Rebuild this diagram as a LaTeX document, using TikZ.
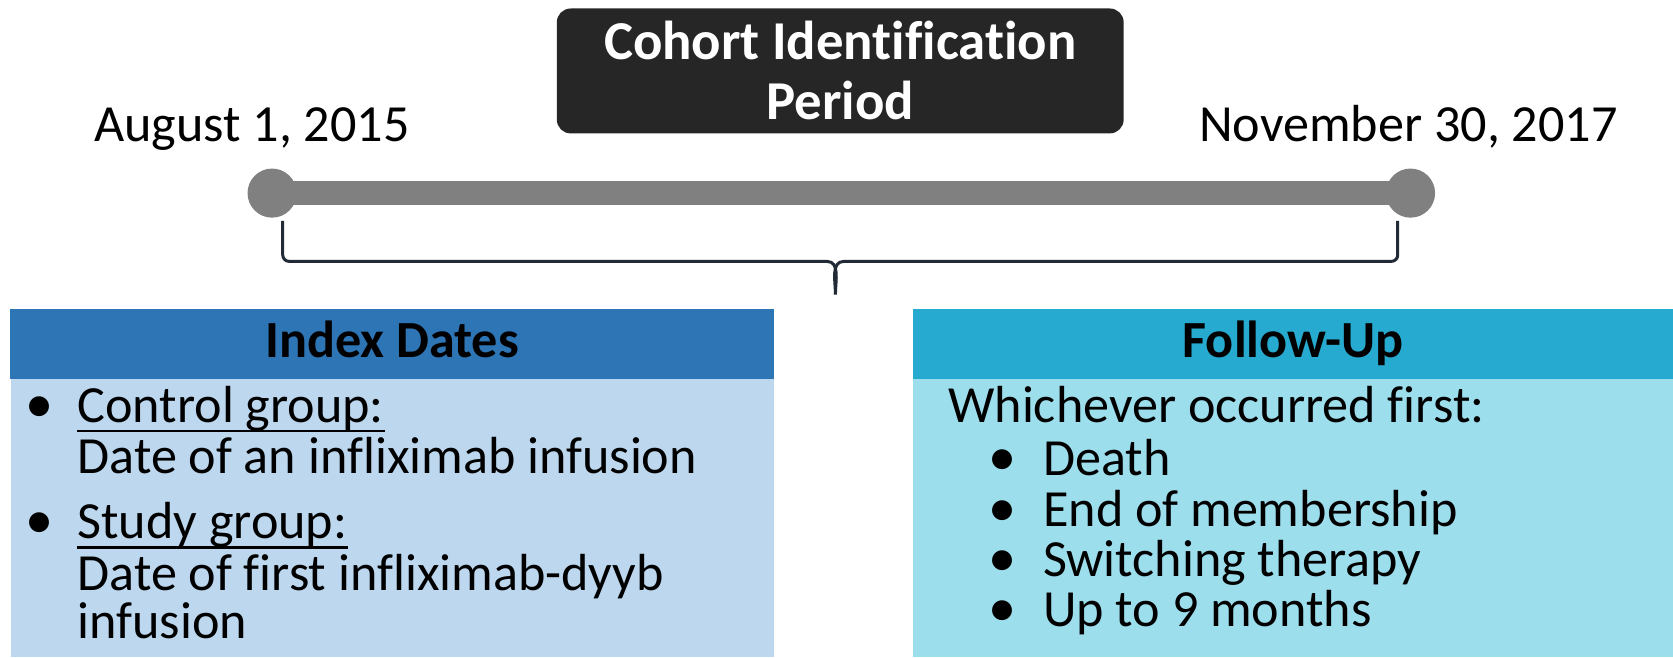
\documentclass[tikz,border=0pt]{standalone}
\usepackage{fontspec}
\setmainfont{Carlito}[Ligatures=NoCommon]
\usepackage{tikz}
\usetikzlibrary{calc}
\definecolor{titlegrey}{HTML}{262626}
\definecolor{bargrey}{HTML}{808080}
\definecolor{bracenavy}{HTML}{222A35}
\definecolor{indexhead}{HTML}{2E75B6}
\definecolor{indexbody}{HTML}{BDD7EE}
\definecolor{followhead}{RGB}{39,170,208}
\definecolor{followbody}{RGB}{157,222,237}
\def\bodyfont{\fontsize{13.9}{15}\selectfont}

\begin{document}
\begin{tikzpicture}[x=0.01cm, y=-0.01cm]
		%%%%% START %%%%%
		\useasboundingbox (0, 0) rectangle (1568, 616);
		
		\node[fill=titlegrey, rounded corners=0.13cm, minimum width=5.31cm, minimum height=1.17cm, align=center, text=white, font=\fontsize{14.6}{16}\selectfont\bfseries] (cohort) at (787.5, 66.5) {Cohort Identification\\Period};
		
		\node[anchor=base, font=\bodyfont] (startdate) at (236, 133) {August 1, 2015};
		\node[anchor=base, font=\bodyfont] (enddate) at (1320, 133) {November 30, 2017};
		
		\node[circle, fill=bargrey, minimum size=0.46cm, inner sep=0] (start) at (255, 181) {};
		\node[circle, fill=bargrey, minimum size=0.46cm, inner sep=0] (stop) at (1322, 181) {};
		\draw[line width=0.23cm, color=bargrey] (start.center) -- (stop.center);
		
		\coordinate (braceleft) at (265, 207);
		\coordinate (braceright) at (1310, 207);
		\coordinate (bracetip) at (783, 276);
		\draw[line width=0.8pt, color=bracenavy] (braceleft) -- (265, 239) to[out=-90, in=180] (271, 245) -- (775, 245) to[out=0, in=90] (bracetip);
		\draw[line width=0.8pt, color=bracenavy] (braceright) -- (1310, 239) to[out=-90, in=0] (1304, 245) -- (791, 245) to[out=180, in=90] (bracetip);
		
		\fill[color=indexbody] (10, 355) rectangle (725, 616);
		\node[fill=indexhead, minimum width=7.15cm, minimum height=0.65cm, text height=0.85em, text depth=0.15em, font=\bodyfont\bfseries] (index) at (367.5, 322.5) {Index Dates};
		
		\fill[color=followbody] (856, 355) rectangle (1568, 616);
		\node[fill=followhead, minimum width=7.12cm, minimum height=0.65cm, text height=0.85em, text depth=0.15em, font=\bodyfont\bfseries] (follow) at (1212, 322.5) {Follow-Up};
		
		\node[anchor=base west, inner sep=0, font=\fontsize{15}{15}\selectfont] (dotone) at (23, 396) {•};
		\node[anchor=base west, inner sep=0, font=\bodyfont] (control) at (72, 396) {Control group:};
		\draw[line width=0.7pt] ($(control.base west)+(0, 8)$) -- ($(control.base east)+(0, 8)$);
		\node[anchor=base west, inner sep=0, font=\bodyfont] (controldate) at (72, 444) {Date of an infliximab infusion};
		\node[anchor=base west, inner sep=0, font=\fontsize{15}{15}\selectfont] (dottwo) at (23, 505) {•};
		\node[anchor=base west, inner sep=0, font=\bodyfont] (study) at (72, 505) {Study group:};
		\draw[line width=0.7pt] ($(study.base west)+(0, 8)$) -- ($(study.base east)+(0, 8)$);
		\node[anchor=base west, inner sep=0, font=\bodyfont] (studydate) at (72, 553) {Date of first infliximab-dyyb};
		\node[anchor=base west, inner sep=0, font=\bodyfont] (studyend) at (72, 598) {infusion};
		
		\node[anchor=base west, inner sep=0, font=\bodyfont] (whichever) at (888, 396) {Whichever occurred first:};
		\node[anchor=base west, inner sep=0, font=\fontsize{15}{15}\selectfont] (dotdeath) at (926, 446) {•};
		\node[anchor=base west, inner sep=0, font=\bodyfont] (death) at (977, 446) {Death};
		\node[anchor=base west, inner sep=0, font=\fontsize{15}{15}\selectfont] (dotmember) at (926, 493) {•};
		\node[anchor=base west, inner sep=0, font=\bodyfont] (member) at (977, 493) {End of membership};
		\node[anchor=base west, inner sep=0, font=\fontsize{15}{15}\selectfont] (dotswitch) at (926, 540) {•};
		\node[anchor=base west, inner sep=0, font=\bodyfont] (switch) at (977, 540) {Switching therapy};
		\node[anchor=base west, inner sep=0, font=\fontsize{15}{15}\selectfont] (dotmonths) at (926, 587) {•};
		\node[anchor=base west, inner sep=0, font=\bodyfont] (months) at (977, 587) {Up to 9 months};
		
		%%%%% END %%%%%
\end{tikzpicture}
\end{document}
